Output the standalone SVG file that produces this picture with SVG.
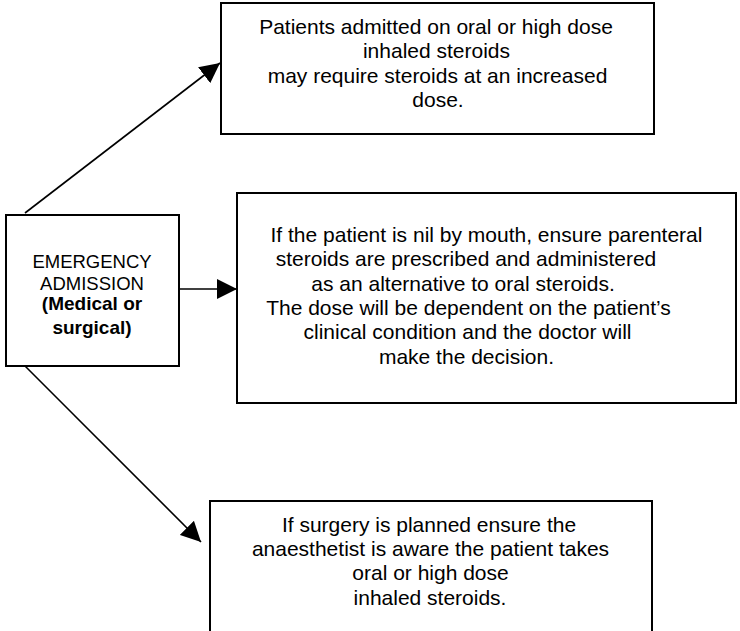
<svg xmlns="http://www.w3.org/2000/svg" width="740" height="631" viewBox="0 0 740 631">
  <style>
    .box { fill: #ffffff; stroke: #000000; stroke-width: 2; }
    .txt { font-family: "Liberation Sans", Arial, sans-serif; font-size: 21px; fill: #000000; text-anchor: middle; }
    .small { font-size: 18.5px; }
    .bold { font-weight: bold; font-size: 19px; }
    .link { stroke: #000000; stroke-width: 1.6; fill: none; marker-end: url(#arrow); }
  </style>
  <defs>
    <marker id="arrow" viewBox="0 0 20 20" refX="20" refY="10" markerWidth="20" markerHeight="20" markerUnits="userSpaceOnUse" orient="auto">
      <path d="M0,0 L20,10 L0,20 Z" fill="#000000"/>
    </marker>
  </defs>
  <rect width="740" height="631" fill="#ffffff"/>

  <g id="connectors">
    <path class="link" d="M25,213 L220,63"/>
    <path class="link" d="M179,289 L237,289"/>
    <path class="link" d="M25,366 L201,542"/>
  </g>

  <g id="emergency">
    <rect class="box" x="6" y="215" width="173" height="151"/>
    <text class="txt small" x="92" y="268">EMERGENCY</text>
    <text class="txt small" x="92" y="290">ADMISSION</text>
    <text class="txt bold" x="92" y="310">(Medical or</text>
    <text class="txt bold" x="92" y="334">surgical)</text>
  </g>

  <g id="increased-dose">
    <rect class="box" x="221" y="3" width="433" height="131"/>
    <text class="txt" x="436" y="34">Patients admitted on oral or high dose</text>
    <text class="txt" x="436.5" y="58">inhaled steroids</text>
    <text class="txt" x="437.5" y="83">may require steroids at an increased</text>
    <text class="txt" x="438" y="107">dose.</text>
  </g>

  <g id="nil-by-mouth">
    <rect class="box" x="237" y="193" width="499" height="210"/>
    <text class="txt" x="486.5" y="242">If the patient is nil by mouth, ensure parenteral</text>
    <text class="txt" x="466" y="266">steroids are prescribed and administered</text>
    <text class="txt" x="463" y="291">as an alternative to oral steroids.</text>
    <text class="txt" x="468.5" y="315">The dose will be dependent on the patient’s</text>
    <text class="txt" x="467.5" y="339">clinical condition and the doctor will</text>
    <text class="txt" x="466.5" y="364">make the decision.</text>
  </g>

  <g id="surgery">
    <rect class="box" x="210" y="501" width="442" height="140"/>
    <text class="txt" x="429" y="532">If surgery is planned ensure the</text>
    <text class="txt" x="430.5" y="556">anaesthetist is aware the patient takes</text>
    <text class="txt" x="430.5" y="580">oral or high dose</text>
    <text class="txt" x="430" y="605">inhaled steroids.</text>
  </g>
</svg>
